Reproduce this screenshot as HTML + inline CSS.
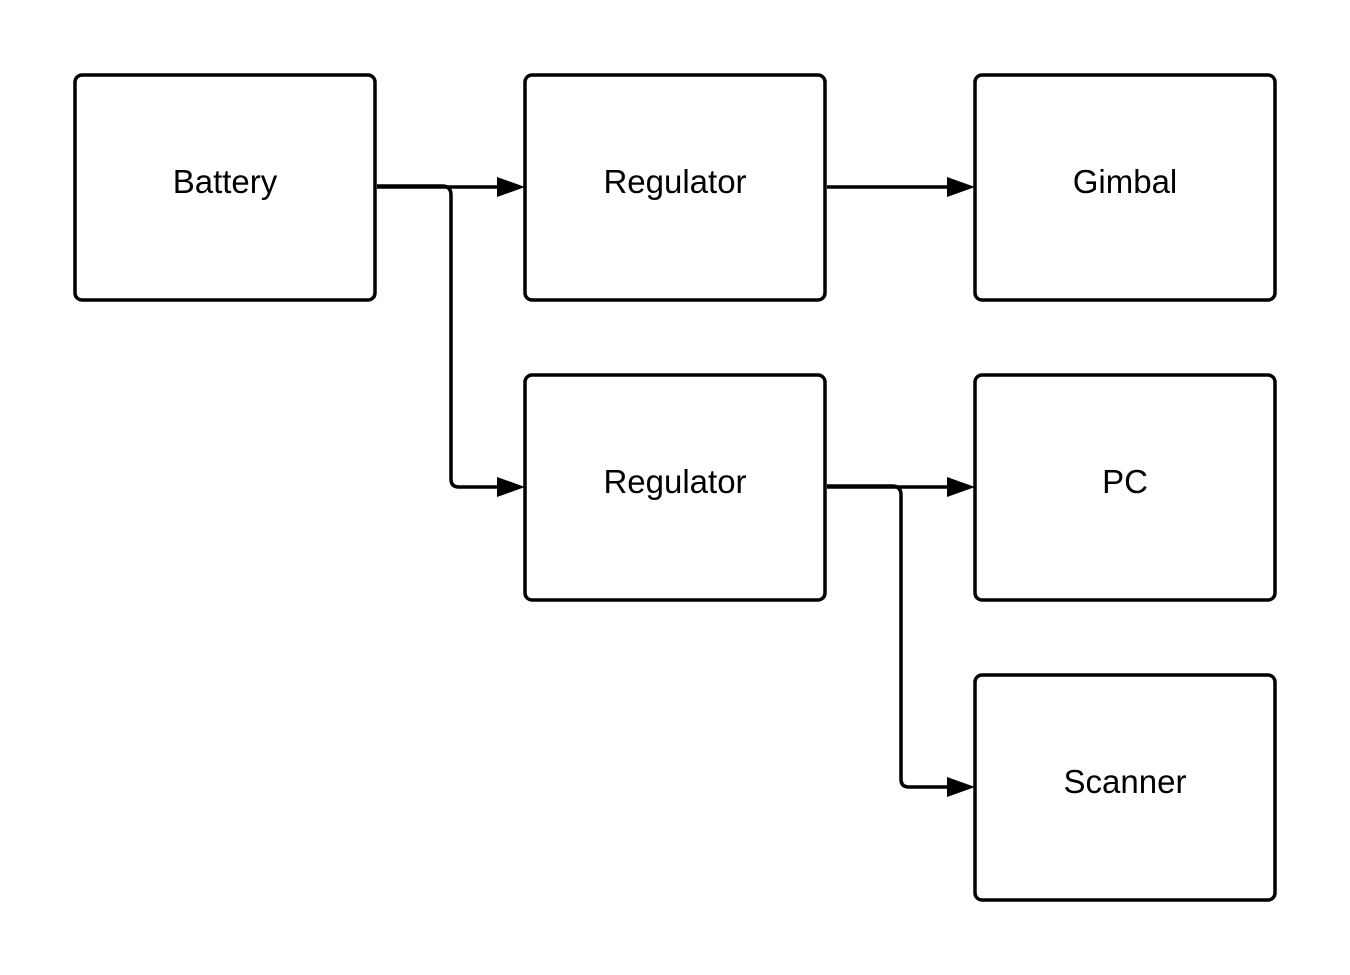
<!DOCTYPE html>
<html><head><style>
html,body{margin:0;padding:0;background:#fff;width:1350px;height:975px;overflow:hidden}
svg{display:block}
text{font-family:"Liberation Sans",sans-serif;font-size:33px;fill:#000;text-anchor:middle}
</style></head><body>
<svg width="1350" height="975" viewBox="0 0 1350 975">
<g fill="#fff" stroke="#000" stroke-width="3.5">
<rect x="75" y="75" width="300" height="225" rx="7"/>
<rect x="525" y="75" width="300" height="225" rx="7"/>
<rect x="975" y="75" width="300" height="225" rx="7"/>
<rect x="525" y="375" width="300" height="225" rx="7"/>
<rect x="975" y="375" width="300" height="225" rx="7"/>
<rect x="975" y="675" width="300" height="225" rx="7"/>
</g>
<g fill="none" stroke="#000" stroke-width="3.5">
<path d="M377 187 H500"/>
<path d="M377 186 H442 Q451 186 451 195 V479 Q451 487 459 487 H500"/>
<path d="M827 187 H950"/>
<path d="M827 487 H950"/>
<path d="M827 486 H892 Q901 486 901 495 V779 Q901 787 909 787 H950"/>
</g>
<g fill="#000">
<polygon points="497,177 525,187 497,197"/>
<polygon points="497,477 525,487 497,497"/>
<polygon points="947,177 975,187 947,197"/>
<polygon points="947,477 975,487 947,497"/>
<polygon points="947,777 975,787 947,797"/>
</g>
<text x="225" y="193">Battery</text>
<text x="675" y="193">Regulator</text>
<text x="1125" y="193">Gimbal</text>
<text x="675" y="493">Regulator</text>
<text x="1125" y="493">PC</text>
<text x="1125" y="793">Scanner</text>
</svg>
</body></html>
